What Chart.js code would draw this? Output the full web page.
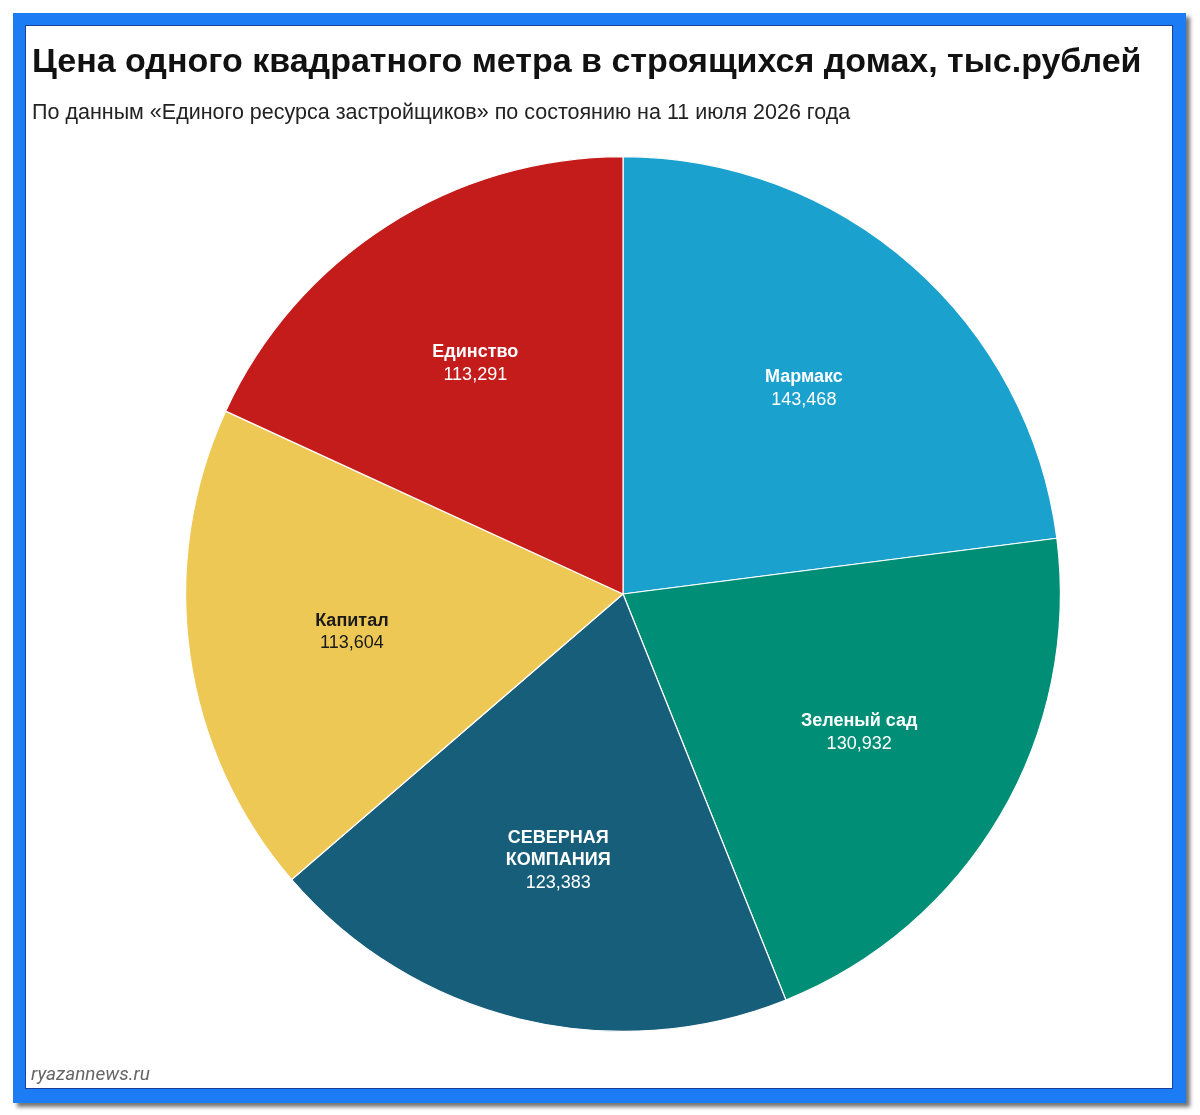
<!DOCTYPE html>
<html>
<head>
<meta charset="utf-8">
<script src="https://cdn.jsdelivr.net/npm/chart.js@4"></script>
<style>
  body { margin: 0; background: #fff; width: 1200px; height: 1115px; position: relative; overflow: hidden; }
  #frame { position: absolute; left: 13px; top: 13px; width: 1173px; height: 1090px; background: #1c7cf4;
           box-shadow: 4px 4px 4px rgba(0,0,0,0.55); }
  #inner { position: absolute; left: 13px; top: 13px; width: 1146px; height: 1062px; background: #fff;
           outline: 1px solid #1b3f9c; }
  #chartBox { position: absolute; left: 0; top: 0; width: 1146px; height: 1062px; }
  .txt { position: absolute; white-space: nowrap; margin: 0; }
  #title { left: 32px; top: 43px; font: bold 34px "Liberation Sans", Arial, sans-serif; line-height: 34px; color: #111; }
  #subtitle { left: 32px; top: 102px; font: 21.5px "Liberation Sans", Arial, sans-serif; line-height: 21.5px; color: #222; }
  #source { left: 31px; top: 1064px; font: italic 19px Roboto, sans-serif; line-height: 20px; color: #666; }
</style>
</head>
<body>
<div id="frame">
  <div id="inner">
    <div id="chartBox"><canvas id="price-chart"></canvas></div>
  </div>
</div>
<div class="txt" id="title">Цена одного квадратного метра в строящихся домах, тыс.рублей</div>
<div class="txt" id="subtitle">По данным «Единого ресурса застройщиков» по состоянию на 11 июля 2026 года</div>
<div class="txt" id="source">ryazannews.ru</div>

<script>
// Data (тыс. рублей за кв. метр)
const developers = ['Мармакс', 'Зеленый сад', 'СЕВЕРНАЯ КОМПАНИЯ', 'Капитал', 'Единство'];
const prices = [143.468, 130.932, 123.383, 113.604, 113.291];
const sliceColours = ['#1ba1ce', '#008f76', '#175e7a', '#eec855', '#c41b1b'];
const labelColours = ['#ffffff', '#ffffff', '#ffffff', '#1a1a1a', '#ffffff'];

// format 143.468 -> "143,468"
formatPrice = function (v) {
  return v.toFixed(3).replace('.', ',');
}

// split a label into lines that fit into maxWidth
wrapLabel = function (ctx, text, maxWidth) {
  const words = text.split(' ');
  const lines = [];
  let line = '';
  for (let i = 0; i < words.length; i++) {
    const test = line ? line + ' ' + words[i] : words[i];
    if (line && ctx.measureText(test).width > maxWidth) {
      lines.push(line);
      line = words[i];
    } else {
      line = test;
    }
  }
  lines.push(line);
  return lines;
}

// Draw name + value inside each slice
const sliceLabels = {
  id: 'sliceLabels',
  afterDatasetsDraw: function (chart) {
    const ctx = chart.ctx;
    const meta = chart.getDatasetMeta(0);
    meta.data.forEach((arc, i) => {
      const mid = (arc.startAngle + arc.endAngle) / 2;
      const r = arc.outerRadius * 0.626;
      const cx = arc.x + Math.cos(mid) * r;
      const cy = arc.y + Math.sin(mid) * r;

      ctx.save();
      ctx.font = 'bold 18px "Liberation Sans", Arial, sans-serif';
      const nameLines = wrapLabel(ctx, developers[i], 170);
      const lineH = 22.5;
      const total = nameLines.length + 1;
      let y = cy - (total - 1) * lineH / 2;
      ctx.fillStyle = labelColours[i];
      ctx.textAlign = 'center';
      ctx.textBaseline = 'middle';
      nameLines.forEach((ln) => {
        ctx.fillText(ln, cx, y);
        y += lineH;
      });
      ctx.font = '18px "Liberation Sans", Arial, sans-serif';
      ctx.fillText(formatPrice(prices[i]), cx, y);
      ctx.restore();
    });
  }
};

var pricectx = document.getElementById('price-chart').getContext('2d');
var priceChart = new Chart(pricectx, {
  type: 'pie',
  data: {
    labels: developers,
    datasets: [{
      data: prices,
      backgroundColor: sliceColours,
      borderColor: '#ffffff',
      borderWidth: 1.2
    }]
  },
  options: {
    responsive: true,
    maintainAspectRatio: false,
    animation: false,
    layout: {
      padding: { top: 130, bottom: 56, left: 48, right: 0 }
    },
    plugins: {
      legend: { display: false },
      tooltip: { enabled: false }
    }
  },
  plugins: [sliceLabels]
});
</script>
</body>
</html>
